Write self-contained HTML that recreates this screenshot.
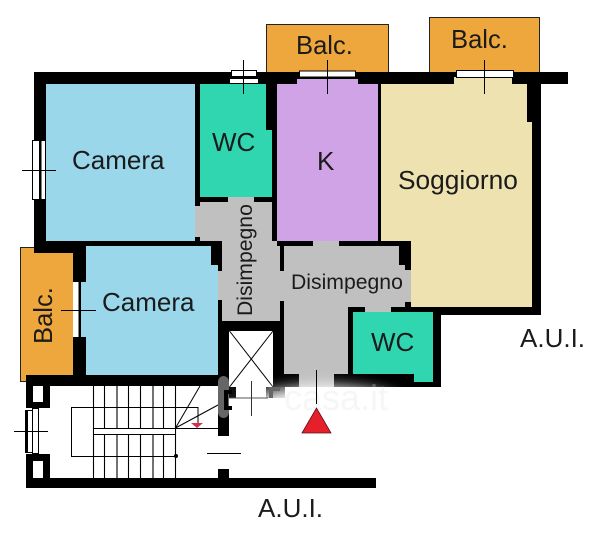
<!DOCTYPE html>
<html><head><meta charset="utf-8"><style>
html,body{margin:0;padding:0;background:#fff;width:600px;height:539px;overflow:hidden}
svg{display:block}
text{font-family:"Liberation Sans",sans-serif;fill:#1b1b1b}
</style></head><body>
<svg width="600" height="539" viewBox="0 0 600 539" xmlns="http://www.w3.org/2000/svg">
<defs><filter id="b" x="-30%" y="-50%" width="160%" height="200%"><feGaussianBlur stdDeviation="7"/></filter></defs>
<!-- balconies -->
<g fill="#eda73d" stroke="#222" stroke-width="1">
<rect x="266.5" y="24.5" width="122" height="50"/>
<rect x="429.5" y="17.5" width="110" height="57"/>
<rect x="20.5" y="247.5" width="55" height="134"/>
</g>
<!-- walls -->
<g fill="#000">
<rect x="34" y="72" width="534" height="12"/>
<rect x="34" y="72" width="12" height="181"/>
<rect x="34" y="241" width="378" height="12"/>
<rect x="73" y="241" width="13" height="145"/>
<rect x="527" y="84" width="14" height="231"/>
<rect x="348" y="307" width="193" height="8"/>
<rect x="284" y="374" width="157" height="13"/>
<rect x="433" y="307" width="8" height="80"/>
<rect x="26" y="375" width="200" height="11"/>
<rect x="218" y="241" width="11" height="195"/>
<rect x="273" y="241" width="11" height="157"/>
<rect x="218" y="321" width="66" height="10"/>
<rect x="218" y="469" width="11" height="10"/>
<rect x="26" y="478" width="350" height="10"/>
<rect x="26" y="375" width="7" height="113"/>
<rect x="26" y="386" width="24" height="22"/>
<rect x="26" y="454" width="24" height="24"/>
</g>
<!-- rooms -->
<rect x="46" y="84" width="149" height="157" fill="#9ad7ea"/>
<rect x="86" y="246" width="132" height="129" fill="#9ad7ea"/>
<rect x="81" y="282" width="5" height="55" fill="#9ad7ea"/>
<path d="M200 84H266V130H272V197H200Z" fill="#30d6af"/>
<path d="M277 84H297V79H358V84H378V241H277Z" fill="#cfa3e6"/>
<path d="M381 84H454V77H512V84H527V122H532V307H411V241H381Z" fill="#ede2b0"/>
<path d="M353 312H433V382H414V374H353Z" fill="#30d6af"/>
<!-- grey corridor -->
<g fill="#c0c0c0">
<rect x="195" y="202" width="77" height="39"/>
<rect x="228" y="197" width="26" height="5"/>
<rect x="222" y="241" width="58" height="80"/>
<rect x="218" y="271" width="4" height="29"/>
<rect x="280" y="271" width="4" height="30"/>
<rect x="284" y="246" width="64" height="128"/>
<rect x="299" y="374" width="35" height="13"/>
<rect x="348" y="246" width="57" height="61"/>
<rect x="405" y="270" width="6" height="32"/>
<rect x="313" y="241" width="26" height="5"/>
<rect x="365" y="307" width="26" height="5"/>
</g>
<!-- small wall stubs -->
<g fill="#000">
<rect x="195" y="84" width="5" height="122"/>
<rect x="195" y="197" width="33" height="5"/>
<rect x="254" y="197" width="18" height="5"/>
<rect x="266" y="84" width="11" height="46"/>
<rect x="272" y="130" width="5" height="111"/>
<rect x="378" y="84" width="3" height="157"/>
<rect x="195" y="237" width="5" height="4"/>
<rect x="280" y="241" width="4" height="30"/>
<rect x="277" y="241" width="36" height="5"/>
<rect x="339" y="241" width="72" height="5"/>
<rect x="399" y="246" width="12" height="19"/>
<rect x="405" y="265" width="6" height="5"/>
<rect x="405" y="302" width="6" height="5"/>
<rect x="348" y="307" width="17" height="5"/>
<rect x="348" y="307" width="5" height="67"/>
<rect x="391" y="307" width="50" height="5"/>
<rect x="211" y="241" width="11" height="24"/>
<rect x="218" y="265" width="4" height="6"/>
<rect x="218" y="300" width="4" height="21"/>
<rect x="280" y="301" width="4" height="20"/>
<rect x="78" y="282" width="3" height="55"/>
</g>
<!-- windows -->
<g fill="#fff" stroke="#000" stroke-width="1">
<rect x="32.5" y="140.5" width="13" height="59"/>
<rect x="231.5" y="70.5" width="25" height="6"/>
<rect x="229.5" y="78.5" width="29" height="5"/>
<rect x="299.5" y="71" width="56" height="6"/>
<rect x="456.5" y="70.5" width="57" height="7"/>
</g>
<rect x="39" y="140" width="2.5" height="59" fill="#000"/>
<rect x="73" y="282" width="5.5" height="55" fill="#fff"/>
<!-- stair room windows -->
<g fill="#fff">
<rect x="33" y="386" width="10" height="16"/>
<rect x="33" y="461" width="10" height="17"/>
<rect x="26" y="408" width="24" height="46"/>
</g>
<g fill="#fff" stroke="#000" stroke-width="1">
<rect x="32.5" y="408.5" width="6" height="45"/>
<rect x="25.5" y="410.5" width="7" height="42"/>
</g>
<rect x="26" y="410" width="2" height="43" fill="#000"/>
<!-- stairs -->
<g stroke="#000" stroke-width="1" fill="none">
<path d="M93.5 386V478M104.5 386V478M117 386V478M128.5 386V478M140.5 386V478M153 386V478M163.5 386V478M175.5 386V478" stroke-width="1.1"/>
<path d="M198 424V407.5H71.5V456.5H176"/>
<rect x="93.5" y="428.5" width="82" height="6" fill="#fff"/>
<path d="M175.5 428L200 386M175.5 428L218 405M175.5 428.5H218"/>
<path d="M207 453.5H241"/>
</g>
<circle cx="176" cy="456" r="2" fill="#000"/>
<path d="M191 423H203L197 428Z" fill="#d9304a"/>
<!-- lift -->
<rect x="229" y="331" width="44" height="67" fill="#fff"/>
<rect x="229" y="387" width="7" height="11" fill="#111"/>
<rect x="266" y="387" width="19" height="11" fill="#222"/>
<g stroke="#000" stroke-width="1" fill="none">
<path d="M229.5 331L273 387M273 331L229.5 387"/>
</g>
<!-- crosshair lines -->
<g stroke="#000" stroke-width="1" fill="none">
<path d="M22 170.5H56"/>
<path d="M243.5 60V94"/>
<path d="M327.5 60V94"/>
<path d="M484.5 60V94"/>
<path d="M61 310.5H96"/>
<path d="M14 431.5H48"/>
</g>
<!-- watermark -->
<ellipse cx="325" cy="412" rx="85" ry="26" fill="#fff" opacity=".95" filter="url(#b)"/>
<rect x="229" y="398" width="130" height="28" fill="#fff" opacity=".85"/>
<text x="284" y="410" font-size="36" style="fill:#fff" opacity=".22">casa.it</text>
<text x="284" y="410" font-size="36" style="fill:#999" opacity=".08">casa.it</text>
<rect x="218" y="376" width="11" height="42" rx="6" fill="#666"/>
<path d="M232 392H226V408H232" fill="none" stroke="#000" stroke-width="4"/>
<path d="M280 389H271V398" fill="none" stroke="#666" stroke-width="4"/>
<rect x="218" y="418" width="11" height="18" fill="#000"/>
<path d="M229 398H268" stroke="#555" fill="none"/>
<path d="M251.5 381V416" stroke="#333" fill="none"/>
<path d="M316.5 370V404" stroke="#000" fill="none"/>
<path d="M302 433L316.5 408L331 433Z" fill="#e5202b" stroke="#5b1015" stroke-width=".8"/>
<!-- labels -->
<text x="72" y="169" font-size="26">Camera</text>
<text x="212" y="151" font-size="26">WC</text>
<text x="317" y="170" font-size="26">K</text>
<text x="398" y="189" font-size="26.3">Soggiorno</text>
<text x="296" y="54" font-size="25.6">Balc.</text>
<text x="451" y="48" font-size="25.6">Balc.</text>
<text x="102" y="311" font-size="26">Camera</text>
<text x="291" y="289" font-size="21.2">Disimpegno</text>
<text x="371" y="351" font-size="26">WC</text>
<text x="520" y="347" font-size="26">A.U.I.</text>
<text x="258" y="517" font-size="26">A.U.I.</text>
<text transform="translate(252 316) rotate(-90)" font-size="21.2">Disimpegno</text>
<text transform="translate(52 344) rotate(-90)" font-size="25.6">Balc.</text>
</svg>
</body></html>
